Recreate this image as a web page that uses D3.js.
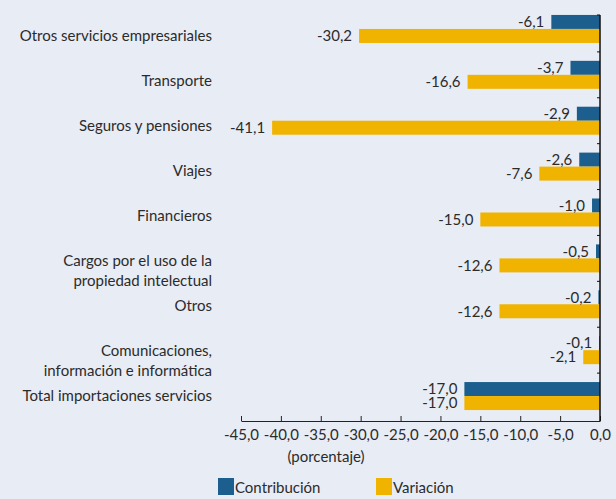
<!DOCTYPE html>
<html>
<head>
<meta charset="utf-8">
<script src="https://cdn.jsdelivr.net/npm/d3@7"></script>
<style>
  body { margin: 0; background: #e8ecf5; }
  svg { display: block; }
  text { font-family: Lato, "Open Sans", sans-serif; fill: #2b2b2b; }
</style>
</head>
<body>
<script>
    // categorias (de arriba a abajo)
    var categories = [
        "Otros servicios empresariales",
        "Transporte",
        "Seguros y pensiones",
        "Viajes",
        "Financieros",
        "Cargos por el uso de la\npropiedad intelectual",
        "Otros",
        "Comunicaciones,\ninformación e informática",
        "Total importaciones servicios"
    ];
    var contribucion = [-6.1, -3.7, -2.9, -2.6, -1.0, -0.5, -0.2, -0.1, -17.0];
    var variacion = [-30.2, -16.6, -41.1, -7.6, -15.0, -12.6, -12.6, -2.1, -17.0];
    var seriesNames = ["Contribución", "Variación"];
    var seriesColors = ["#1c5f8e", "#f0b400"];
    var xTicks = [-45, -40, -35, -30, -25, -20, -15, -10, -5, 0];
    var axisTitle = "(porcentaje)";

    var w = 616, h = 499;

    var locale = d3.formatLocale({decimal: ",", thousands: ".", grouping: [3], currency: ["", ""], minus: "-"});
    var fmt = locale.format(".1f");

    var svg = d3.select("body").append("svg")
        .attr("width", w)
        .attr("height", h);

    var x = d3.scaleLinear().domain([-45, 0]).range([241, 600]);
    var y = d3.scaleBand().domain(categories).range([6, 419]);
    var yLabel = d3.scalePoint().domain(categories).range([36, 396]);
    var ySub = d3.scaleBand().domain(seriesNames).range([-14, 14]);
    var color = d3.scaleOrdinal().domain(seriesNames).range(seriesColors);

    var rows = categories.map(function (c, i) {
        return {cat: c, values: [
            {name: seriesNames[0], v: contribucion[i]},
            {name: seriesNames[1], v: variacion[i]}
        ]};
    });

    // bars
    var g = svg.selectAll("g.row")
        .data(rows)
        .enter().append("g")
        .attr("class", "row")
        .attr("transform", function (d) {
            return "translate(0," + (y(d.cat) + y.bandwidth() / 2) + ")";
        });

    g.selectAll("rect")
        .data(function (d) { return d.values; })
        .enter().append("rect")
        .attr("x", function (d) { return x(d.v); })
        .attr("y", function (d) { return ySub(d.name); })
        .attr("width", function (d) { return x(0) - x(d.v); })
        .attr("height", ySub.bandwidth())
        .attr("fill", function (d) { return color(d.name); });

    g.selectAll("text.val")
        .data(function (d) { return d.values; })
        .enter().append("text")
        .attr("class", "val")
        .attr("x", function (d) { return x(d.v) - 7; })
        .attr("y", function (d) { return ySub(d.name) + ySub.bandwidth() / 2; })
        .attr("dy", "0.35em")
        .attr("text-anchor", "end")
        .style("font-size", "15px")
        .text(function (d) { return fmt(d.v); });

    // category labels
    var lab = svg.selectAll("text.cat")
        .data(categories)
        .enter().append("text")
        .attr("class", "cat")
        .attr("text-anchor", "end")
        .style("font-size", "15px")
        .attr("transform", function (d) { return "translate(212," + yLabel(d) + ")"; });

    lab.selectAll("tspan")
        .data(function (d) { return d.split("\n"); })
        .enter().append("tspan")
        .attr("x", 0)
        .attr("y", function (d, i) { return i * 20; })
        .attr("dy", "0.35em")
        .text(function (d) { return d; });

    // x axis
    var xAxis = d3.axisBottom(x)
        .tickValues(xTicks)
        .tickFormat(fmt)
        .tickSizeInner(-5)
        .tickSizeOuter(0)
        .tickPadding(8);

    var ax = svg.append("g")
        .attr("transform", "translate(0,421)")
        .call(xAxis);
    ax.select(".domain").attr("stroke", "#222");
    ax.selectAll(".tick line").attr("stroke", "#222");
    ax.selectAll(".tick text")
        .style("font-size", "15px")
        .style("font-family", "Lato, sans-serif")
        .attr("fill", "#2b2b2b");

    // vertical axis at zero
    svg.append("line")
        .attr("x1", x(0)).attr("x2", x(0))
        .attr("y1", 15).attr("y2", 421)
        .attr("stroke", "#111")
        .attr("stroke-width", 1.5);

    var bounds = categories.slice(1).map(function (c) { return y(c); });
    bounds.unshift(15);
    svg.selectAll("line.ytick")
        .data(bounds)
        .enter().append("line")
        .attr("class", "ytick")
        .attr("x1", x(0) - 3).attr("x2", x(0))
        .attr("y1", function (d) { return d; })
        .attr("y2", function (d) { return d; })
        .attr("stroke", "#111");

    svg.append("text")
        .attr("x", 326)
        .attr("y", 457)
        .attr("dy", "0.35em")
        .attr("text-anchor", "middle")
        .style("font-size", "15px")
        .text(axisTitle);

    // legend
    var legX = [218, 376];
    var leg = svg.selectAll("g.leg")
        .data(seriesNames)
        .enter().append("g")
        .attr("class", "leg")
        .attr("transform", function (d, i) { return "translate(" + legX[i] + ",478)"; });
    leg.append("rect")
        .attr("width", 16)
        .attr("height", 17)
        .attr("fill", function (d) { return color(d); });
    leg.append("text")
        .attr("x", 17)
        .attr("y", 15)
        .style("font-size", "15px")
        .text(function (d) { return d; });
</script>
</body>
</html>
